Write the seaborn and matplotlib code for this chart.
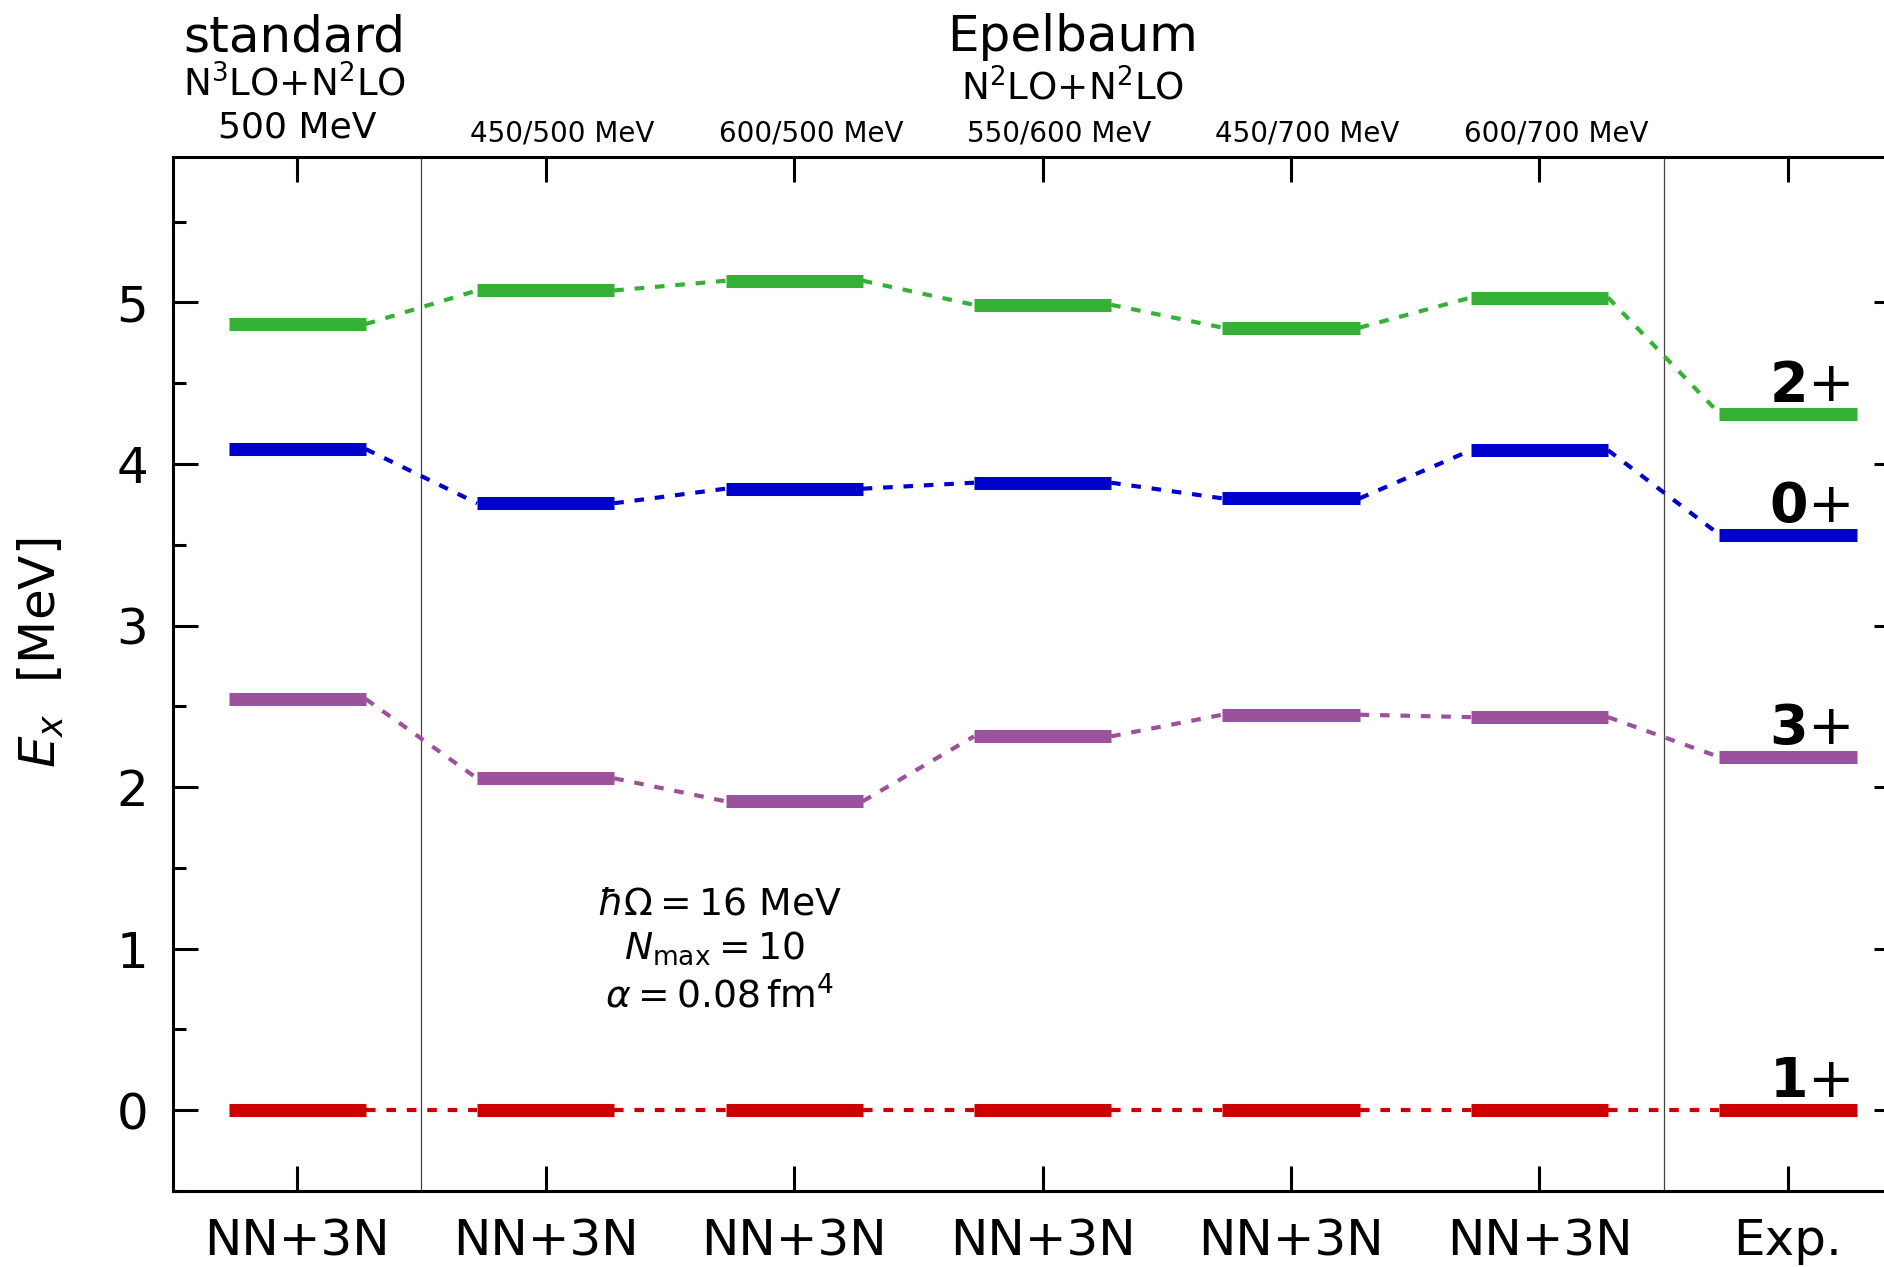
import numpy as np
import pandas as pd
import matplotlib
matplotlib.use("Agg")
import matplotlib.pyplot as plt
import matplotlib.transforms as mtransforms
from matplotlib.ticker import MultipleLocator
import seaborn as sns

# ---- data -----------------------------------------------------------------
columns = ["NN+3N", "NN+3N", "NN+3N", "NN+3N", "NN+3N", "NN+3N", "Exp."]
cutoffs = ["", "450/500 MeV", "600/500 MeV", "550/600 MeV", "450/700 MeV", "600/700 MeV", ""]

states = ["1+", "3+", "0+", "2+"]
E_1p = [0.0, 0.0, 0.0, 0.0, 0.0, 0.0, 0.0]
E_3p = [2.545, 2.054, 1.912, 2.314, 2.448, 2.433, 2.186]
E_0p = [4.092, 3.757, 3.847, 3.884, 3.787, 4.085, 3.563]
E_2p = [4.866, 5.074, 5.134, 4.985, 4.844, 5.030, 4.312]

colors = {"1+": "#cc0000", "3+": "#9b519b", "0+": "#0000cc", "2+": "#35b235"}
energies = {"1+": E_1p, "3+": E_3p, "0+": E_0p, "2+": E_2p}

# ---- style ----------------------------------------------------------------
sns.set_style("ticks")
plt.rcParams["font.family"] = ["DejaVu Sans"]
plt.rcParams["mathtext.fontset"] = "dejavusans"
for key in ("text.color", "axes.labelcolor", "xtick.color", "ytick.color",
            "axes.edgecolor"):
    plt.rcParams[key] = "black"

fig = plt.figure(figsize=(9.42, 6.335), dpi=200)
ax = fig.add_axes([173 / 1884, 1 - 1191 / 1267, 1726 / 1884, 1034 / 1267])

half = 0.276
xpos = np.arange(len(columns))

for st in states:
    e = np.asarray(energies[st])
    # level bars
    ax.hlines(e, xpos - half, xpos + half, colors=colors[st], lw=4.7,
              capstyle="butt", zorder=3)
    # dashed connectors between neighbouring levels
    cx, cy, seg = [], [], []
    for i in range(len(e) - 1):
        cx += [xpos[i] + half, xpos[i + 1] - half]
        cy += [e[i], e[i + 1]]
        seg += [i, i]
    df = pd.DataFrame({"x": cx, "E": cy, "seg": seg})
    sns.lineplot(data=df, x="x", y="E", units="seg", estimator=None, sort=False,
                 color=colors[st], lw=1.5, dashes=False, ax=ax, zorder=2,
                 legend=False)
    # state label above the experimental level: bold spin, plain parity sign
    spin, parity = st[:-1], st[-1]
    ax.text(xpos[-1] + 0.25, e[-1] + 0.08,
            r"$\mathbf{%s}$%s" % (spin, parity), ha="right", va="baseline",
            fontsize=20, color="black", zorder=4)

for line in ax.lines:
    line.set_linestyle((0, (2.3, 2.6)))

# separators between interaction families
for xs in (0.5, 5.5):
    ax.axvline(xs, color="#444444", lw=0.45, zorder=1)

ax.set_xlim(-0.5, 6.447)
ax.set_ylim(-0.5, 5.9)
ax.set_xticks(xpos)
ax.set_xticklabels(columns, fontsize=18)
ax.yaxis.set_major_locator(MultipleLocator(1))
ax.yaxis.set_minor_locator(MultipleLocator(0.5))
ax.tick_params(axis="y", which="major", labelsize=18)
ax.tick_params(which="both", direction="in", top=True, right=True, width=1.1,
               pad=9)
ax.tick_params(axis="x", which="major", pad=9.5)
ax.tick_params(which="major", length=9)
ax.tick_params(which="minor", length=4.7)
ax.tick_params(axis="x", which="minor", bottom=False, top=False)
for sp in ax.spines.values():
    sp.set_linewidth(1.1)
    sp.set_color("black")

ax.set_xlabel("")
ax.set_ylabel(r"$E_x$  [MeV]", fontsize=18)
ax.yaxis.set_label_coords(-0.062, 0.52)

# header texts above the frame
trans = mtransforms.blended_transform_factory(ax.transData, ax.transAxes)
H = 1034.0
for i, lab in enumerate(cutoffs):
    if lab:
        ax.text(i + 0.067, 1 + 15 / H, lab, transform=trans, ha="center",
                va="baseline", fontsize=10)
ax.text(0, 1 + 19 / H, "500 MeV", transform=trans, ha="center",
        va="baseline", fontsize=13)
ax.text(-0.01, 1 + 61 / H, r"N$^3$LO+N$^2$LO", transform=trans, ha="center",
        va="baseline", fontsize=13.4)
ax.text(-0.01, 1 + 105 / H, "standard", transform=trans, ha="center",
        va="baseline", fontsize=18)
ax.text(3.12, 1 + 57 / H, r"N$^2$LO+N$^2$LO", transform=trans, ha="center",
        va="baseline", fontsize=13.4)
ax.text(3.12, 1 + 106 / H, "Epelbaum", transform=trans, ha="center",
        va="baseline", fontsize=18)

# calculation parameters
ax.text(1.7, 1.209, r"$\hbar\Omega = 16$ MeV", ha="center", va="baseline",
        fontsize=13.6)
ax.text(1.68, 0.936, r"$N_{\rm max} = 10$", ha="center", va="baseline",
        fontsize=13.6)
ax.text(1.7, 0.639, r"$\alpha = 0.08\,{\rm fm}^4$", ha="center",
        va="baseline", fontsize=13.6)

fig.savefig("out.png", dpi=200)
